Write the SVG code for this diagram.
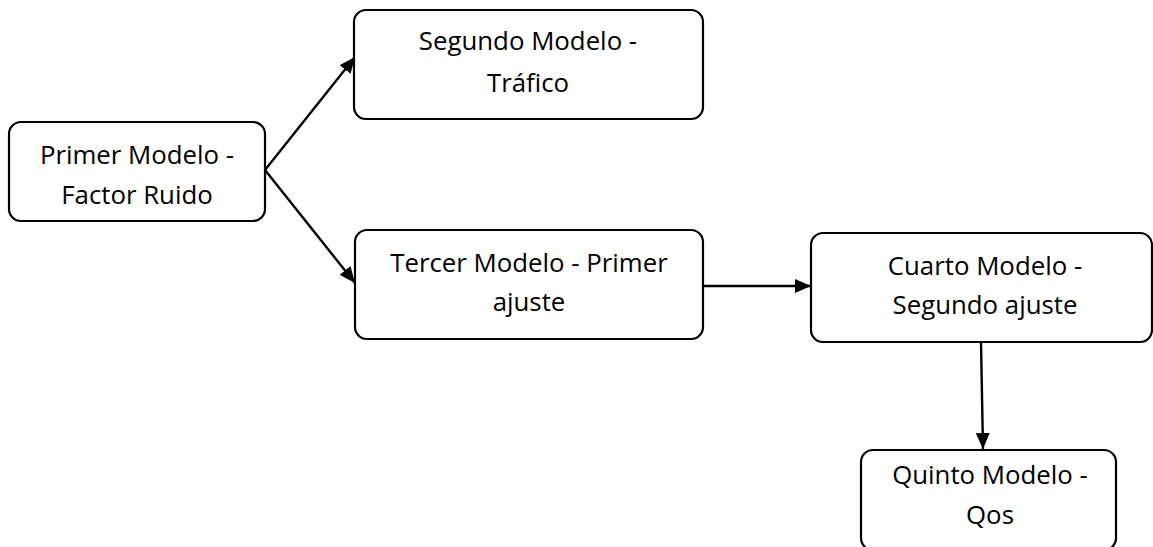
<svg xmlns="http://www.w3.org/2000/svg" width="1153" height="547" viewBox="0 0 1153 547">
  <style>
    .box { fill: #ffffff; stroke: #000000; stroke-width: 2.2; }
    .label { font-family: "Open Sans", "Noto Sans", "Liberation Sans", sans-serif; font-size: 25.8px; fill: #000000; text-anchor: middle; }
    .edge { fill: none; stroke: #000000; stroke-width: 2.4; }
  </style>
  <defs>
    <marker id="arrow" markerUnits="userSpaceOnUse" markerWidth="17" markerHeight="14" refX="16" refY="7" orient="auto">
      <path d="M0,0 L16,7 L0,14 Z" fill="#000000"/>
    </marker>
  </defs>
  <rect width="1153" height="547" fill="#ffffff"/>

  <g id="connectors">
    <line class="edge" x1="265" y1="170" x2="355" y2="57" marker-end="url(#arrow)"/>
    <line class="edge" x1="265" y1="170" x2="355" y2="283" marker-end="url(#arrow)"/>
    <line class="edge" x1="703" y1="286" x2="811" y2="286" marker-end="url(#arrow)"/>
    <line class="edge" x1="981" y1="342" x2="983" y2="449" marker-end="url(#arrow)"/>
  </g>

  <g id="primer">
    <rect class="box" x="9" y="122" width="256" height="99" rx="12"/>
    <text class="label" x="137" y="164">Primer Modelo -</text>
    <text class="label" x="137" y="204">Factor Ruido</text>
  </g>

  <g id="segundo">
    <rect class="box" x="354" y="10" width="349" height="109" rx="12"/>
    <text class="label" x="528" y="50">Segundo Modelo -</text>
    <text class="label" x="528" y="92">Tráfico</text>
  </g>

  <g id="tercer">
    <rect class="box" x="355" y="230" width="348" height="109" rx="12"/>
    <text class="label" x="529" y="272">Tercer Modelo - Primer</text>
    <text class="label" x="529" y="311">ajuste</text>
  </g>

  <g id="cuarto">
    <rect class="box" x="811" y="233" width="341" height="109" rx="12"/>
    <text class="label" x="985" y="275">Cuarto Modelo -</text>
    <text class="label" x="985" y="314">Segundo ajuste</text>
  </g>

  <g id="quinto">
    <rect class="box" x="861" y="450" width="255" height="100" rx="12"/>
    <text class="label" x="990" y="484">Quinto Modelo -</text>
    <text class="label" x="990" y="524">Qos</text>
  </g>
</svg>
